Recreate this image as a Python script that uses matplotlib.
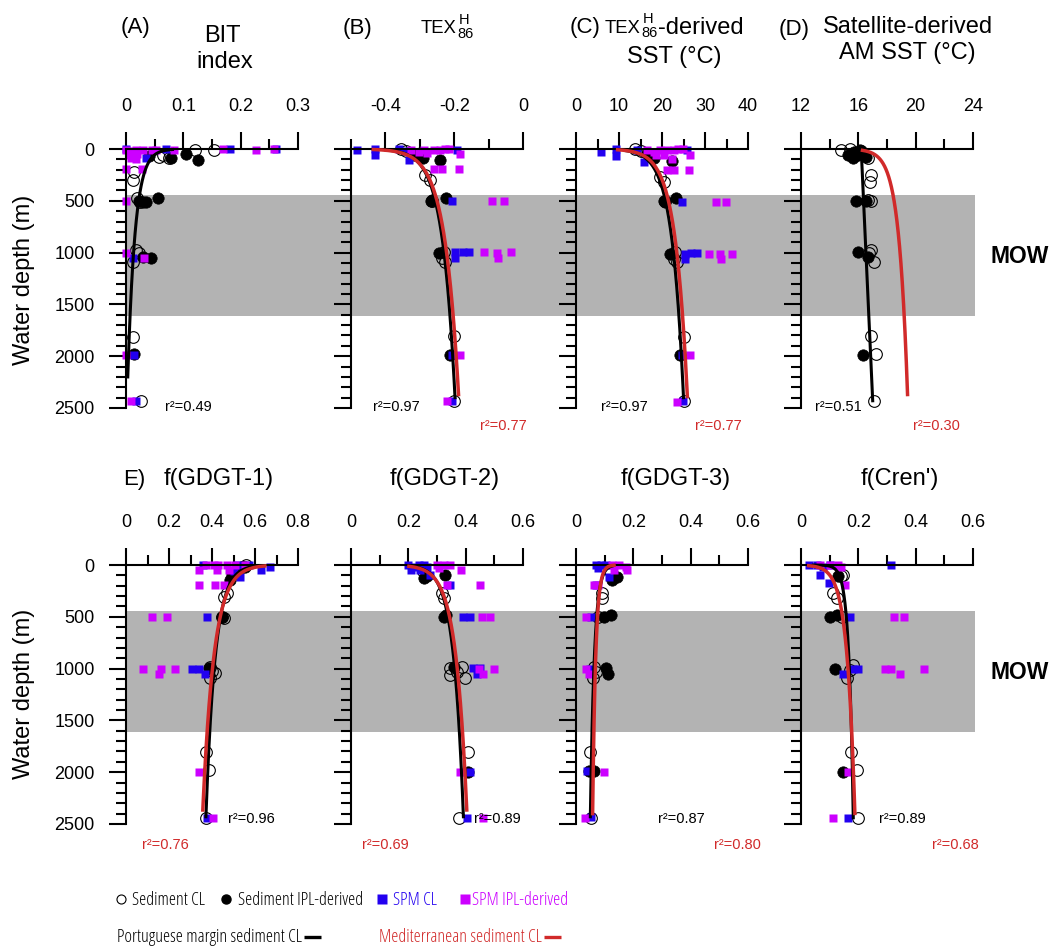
import numpy as np
import matplotlib
matplotlib.use("Agg")
import matplotlib.pyplot as plt
from matplotlib import font_manager
from matplotlib.patches import Rectangle
from matplotlib.lines import Line2D
from matplotlib.transforms import blended_transform_factory

W, H = 1057, 950
plt.rcParams['font.family'] = ['Liberation Sans', 'DejaVu Sans']
plt.rcParams['axes.unicode_minus'] = False

# candidate faces for the legend (narrow sans faces if installed)
SANS = ('Liberation Sans Narrow', 'Liberation Sans', 'Roboto', 'Roboto Condensed', 'Noto Sans',
        'Open Sans', 'DejaVu Sans', 'Lato', 'Inter')
LEG_CANDIDATES = sorted({(f.name, f.stretch) for f in font_manager.fontManager.ttflist
                         if f.name in SANS and f.style == 'normal'})

BLUE = '#2200f0'
MAGENTA = '#cc00ff'
RED = '#d12a2a'
GRAY = '#b3b3b3'

# MOW depth range (m)
MOW_TOP, MOW_BOTTOM = 440, 1610

# ---- (A) BIT index: (value, depth m)
bit_sed_cl = [(0.121, 10), (0.153, 10), (0.058, 74), (0.075, 90), (0.065, 60), (0.014, 218),
              (0.012, 299), (0.020, 475), (0.025, 510), (0.017, 974), (0.023, 1006), (0.012, 1086),
              (0.012, 1810), (0.026, 2435)]
bit_sed_ipl = [(0.105, 51), (0.126, 106), (0.078, 90), (0.040, 65), (0.055, 475), (0.023, 500),
               (0.029, 508), (0.035, 508), (0.029, 1047), (0.043, 1054), (0.014, 1980)]
bit_spm_cl = [(0.0, 0), (0.069, 0), (0.182, 0), (0.262, 0), (0.035, 90), (0.010, 30),
              (0.012, 1054), (0.014, 1990), (0.017, 2435)]
bit_spm_ipl = [(0.0, 5), (0.009, 20), (0.017, 5), (0.029, 10), (0.046, 5), (0.052, 10), (0.084, 10),
               (0.170, 0), (0.227, 10), (0.258, 0), (0.009, 90), (0.017, 100), (0.005, 60), (0.020, 50),
               (0.0, 196), (0.028, 196), (0.0, 500), (0.0, 1000), (0.031, 1054), (0.0, 1990),
               (0.009, 2435)]

# ---- (B) TEX86H
tex_sed_cl = [(-0.356, 0), (-0.340, 15), (-0.284, 250), (-0.269, 300), (-0.265, 505), (-0.230, 990),
              (-0.236, 1054), (-0.226, 1086), (-0.202, 1809), (-0.202, 2435)]
tex_sed_ipl = [(-0.317, 58), (-0.290, 90), (-0.300, 40), (-0.240, 106), (-0.264, 490), (-0.268, 505),
               (-0.223, 469), (-0.245, 1005), (-0.211, 1986)]
tex_spm_cl = [(-0.483, 10), (-0.431, 0), (-0.431, 58), (-0.360, 0), (-0.340, 20), (-0.332, 106),
              (-0.192, 10), (-0.207, 498), (-0.197, 996), (-0.173, 996), (-0.157, 996), (-0.197, 1054),
              (-0.207, 1986), (-0.207, 2435)]
tex_spm_ipl = [(-0.327, 10), (-0.303, 26), (-0.288, 10), (-0.279, 42), (-0.260, 10), (-0.240, 10),
               (-0.226, 0), (-0.216, 0), (-0.183, 51), (-0.260, 196), (-0.236, 196), (-0.185, 196),
               (-0.091, 498), (-0.056, 498), (-0.112, 996), (-0.077, 1005), (-0.072, 1054),
               (-0.036, 996), (-0.183, 1986), (-0.221, 2435)]

# ---- (C) TEX86H-derived SST (degC)
sst_sed_cl = [(13.8, 0), (15.0, 15), (19.5, 267), (20.4, 315), (20.8, 505), (23.1, 996), (22.7, 1060),
              (23.5, 1092), (25.0, 1815), (25.0, 2435)]
sst_sed_ipl = [(16.5, 42), (18.1, 90), (22.3, 116), (20.4, 500), (20.8, 510), (23.3, 475), (21.9, 1012),
               (24.2, 1992)]
sst_spm_cl = [(5.8, 26), (9.4, 0), (9.4, 64), (14.2, 10), (15.9, 122), (25.8, 10), (24.6, 508),
              (25.4, 1012), (26.8, 1005), (28.1, 1005), (25.4, 1060), (24.6, 1992), (24.8, 2435)]
sst_spm_ipl = [(16.5, 10), (18.1, 26), (19.6, 10), (18.5, 58), (20.4, 58), (21.2, 10), (22.7, 10),
               (22.3, 96), (23.8, 0), (24.8, 0), (26.4, 58), (21.2, 202), (22.8, 202), (26.2, 202),
               (32.5, 508), (34.8, 508), (31.0, 1012), (33.5, 1012), (33.8, 1060), (36.3, 1012),
               (26.4, 1992), (23.6, 2442)]

# ---- (D) satellite-derived annual mean SST (degC)
sat_sed_cl = [(14.8, 10), (15.4, 0), (16.2, 20), (16.66, 90), (16.9, 250), (16.8, 315), (16.66, 490),
              (16.85, 505), (16.9, 973), (16.75, 1005), (17.1, 1092), (16.9, 1809), (17.2, 1979),
              (17.1, 2435)]
sat_sed_ipl = [(15.3, 58), (15.6, 90), (16.1, 10), (15.7, 30), (16.0, 60), (16.5, 80), (15.85, 498),
               (16.5, 501), (15.97, 996), (16.66, 1047), (16.3, 1986)]

# ---- (E) f(GDGT-1)
g1_sed_cl = [(0.560, 0), (0.540, 20), (0.469, 273), (0.454, 305), (0.446, 499), (0.455, 512),
             (0.392, 981), (0.400, 1020), (0.415, 1045), (0.392, 1094), (0.372, 1802), (0.385, 1979),
             (0.372, 2439)]
g1_sed_ipl = [(0.554, 16), (0.492, 96), (0.508, 80), (0.485, 145), (0.446, 499), (0.385, 997)]
g1_spm_cl = [(0.360, 0), (0.520, 0), (0.570, 0), (0.630, 48), (0.672, 16), (0.530, 113), (0.500, 60),
             (0.377, 499), (0.308, 1004), (0.338, 1004), (0.366, 1055), (0.377, 2439)]
g1_spm_ipl = [(0.338, 48), (0.370, 0), (0.408, 0), (0.430, 0), (0.423, 48), (0.469, 0), (0.477, 48),
              (0.508, 0), (0.554, 0), (0.338, 193), (0.415, 193), (0.454, 193), (0.120, 499),
              (0.189, 499), (0.077, 1004), (0.162, 1004), (0.154, 1055), (0.228, 1004), (0.338, 1995),
              (0.405, 2439)]

# ---- f(GDGT-2)
g2_sed_cl = [(0.250, 60), (0.317, 273), (0.323, 322), (0.346, 997), (0.386, 981), (0.370, 1030),
             (0.346, 1062), (0.398, 1094), (0.409, 1802), (0.378, 2439)]
g2_sed_ipl = [(0.254, 129), (0.265, 110), (0.329, 96), (0.323, 499), (0.333, 485), (0.358, 981),
              (0.409, 1995)]
g2_spm_cl = [(0.200, 0), (0.219, 16), (0.236, 0), (0.254, 0), (0.265, 16), (0.208, 48), (0.242, 48),
             (0.277, 96), (0.346, 193), (0.392, 499), (0.415, 499), (0.427, 997), (0.450, 997),
             (0.438, 1052), (0.415, 1995), (0.404, 2439)]
g2_spm_ipl = [(0.300, 0), (0.323, 0), (0.346, 0), (0.306, 32), (0.383, 48), (0.334, 193), (0.450, 193),
              (0.456, 499), (0.484, 499), (0.447, 1004), (0.461, 1052), (0.498, 1004), (0.380, 1995),
              (0.461, 2439)]

# ---- f(GDGT-3)
g3_sed_cl = [(0.120, 60), (0.092, 273), (0.092, 322), (0.075, 499), (0.063, 981), (0.069, 1030),
             (0.058, 1094), (0.050, 1802), (0.052, 2439)]
g3_sed_ipl = [(0.144, 113), (0.127, 145), (0.121, 483), (0.098, 499), (0.104, 997), (0.110, 1052),
              (0.063, 1985), (0.045, 1985)]
g3_spm_cl = [(0.069, 0), (0.087, 0), (0.104, 0), (0.075, 32), (0.115, 113), (0.069, 193), (0.052, 499),
             (0.050, 1004), (0.040, 1985), (0.052, 2430)]
g3_spm_ipl = [(0.127, 0), (0.150, 0), (0.173, 16), (0.179, 48), (0.133, 48), (0.075, 193), (0.063, 193),
              (0.035, 499), (0.035, 1004), (0.046, 1052), (0.098, 1995), (0.031, 2439)]

# ---- f(Cren')
cr_sed_cl = [(0.148, 96), (0.140, 110), (0.113, 273), (0.125, 322), (0.142, 499), (0.182, 965),
             (0.170, 1010), (0.159, 1094), (0.174, 1802), (0.194, 1979), (0.200, 2439)]
cr_sed_ipl = [(0.130, 110), (0.100, 499), (0.125, 485), (0.119, 1004), (0.148, 1995)]
cr_spm_cl = [(0.027, 0), (0.055, 0), (0.078, 16), (0.100, 0), (0.315, 0), (0.067, 96), (0.096, 177),
             (0.171, 499), (0.200, 1004), (0.180, 1004), (0.148, 1052), (0.165, 2439)]
cr_spm_ipl = [(0.067, 0), (0.100, 0), (0.130, 0), (0.140, 16), (0.153, 193), (0.323, 499), (0.361, 499),
              (0.292, 1004), (0.315, 1004), (0.344, 1052), (0.430, 1004), (0.165, 1995), (0.111, 2439)]

# log fits, value = a + b*ln(depth): (a, b, first depth, last depth); None = no fit
port_fits = [(0.1016, -0.0128, 5, 2200), (-0.4825, 0.0366, 10, 2400), (4.18, 2.675, 15, 2400),
             None, (0.707, -0.043, 12, 2430), (0.1255, 0.0342, 11.8, 2430),
             (0.1584, -0.0139, 9.6, 2430), (0.063, 0.0153, 0.3, 2440)]
med_fits = [None, (-0.4998, 0.0402, 5, 2370), (4.0, 2.815, 7.5, 2390), (14.74, 0.604, 13, 2370),
            (0.762, -0.0521, 9.3, 2365), (0.104, 0.0386, 12.7, 2365),
            (0.1423, -0.01083, 2.4, 2400), (-0.0253, 0.0274, 6.7, 2398)]
# satellite SST against depth is a straight-line fit: (intercept, slope per m, last depth)
sat_linear_fit = (16.2, 0.00033, 2430)

port_r2 = ['0.49', '0.97', '0.97', '0.51', '0.96', '0.89', '0.87', '0.89']
med_r2 = [None, '0.77', '0.77', '0.30', '0.76', '0.69', '0.80', '0.68']

fig = plt.figure(figsize=(W / 100, H / 100), dpi=100)
renderer = fig.canvas.get_renderer()


def ftext(x, y, s, **kw):
    return fig.text(x / W, 1 - y / H, s, **kw)


def make_axes(left, top):
    return fig.add_axes([left / W, 1 - (top + 259) / H, 172 / W, 259 / H])


def style_axes(ax, xlim, major, labels, minor, show_y):
    ax.set_facecolor('none')
    ax.set_xlim(*xlim)
    ax.set_ylim(2500, 0)
    ax.spines['bottom'].set_visible(False)
    ax.spines['right'].set_visible(False)
    ax.spines['top'].set_linewidth(1.5)
    ax.spines['left'].set_linewidth(1.5)
    ax.xaxis.tick_top()
    ax.set_xticks(major)
    ax.set_xticklabels(labels)
    ax.set_xticks(minor, minor=True)
    ax.set_yticks(range(0, 2501, 500))
    ax.set_yticks(range(0, 2501, 100), minor=True)
    ax.tick_params(which='major', length=12.5, width=1.5, labelsize=13)
    ax.tick_params(which='minor', length=7, width=1.5)
    ax.tick_params(axis='x', pad=12)
    ax.tick_params(axis='y', pad=10, labelleft=show_y)


def points(ax, pts, **kw):
    if not pts:
        return
    v, d = zip(*pts)
    ax.plot(v, d, linestyle='none', clip_on=False, **kw)


def log_fit(ax, fit, color, lw):
    if fit is None:
        return
    a, b, d0, d1 = fit
    d = np.geomspace(d0, d1, 300)
    ax.plot(a + b * np.log(d), d, color=color, lw=lw, clip_on=False, zorder=5)


panels = [
    dict(left=126, top=149, xlim=(0, 0.3), major=[0, 0.1, 0.2, 0.3], labels=['0', '0.1', '0.2', '0.3'],
         minor=[0.05, 0.15, 0.25], data=(bit_sed_cl, bit_sed_ipl, bit_spm_cl, bit_spm_ipl),
         r2k=(165, 411), r2m=None),
    dict(left=351, top=149, xlim=(-0.5, 0), major=[-0.4, -0.2, 0], labels=['-0.4', '-0.2', '0'],
         minor=[-0.5, -0.3, -0.1], data=(tex_sed_cl, tex_sed_ipl, tex_spm_cl, tex_spm_ipl),
         r2k=(373, 411), r2m=(480, 430)),
    dict(left=576, top=149, xlim=(0, 40), major=[0, 10, 20, 30, 40], labels=['0', '10', '20', '30', '40'],
         minor=[5, 15, 25, 35], data=(sst_sed_cl, sst_sed_ipl, sst_spm_cl, sst_spm_ipl),
         r2k=(601, 411), r2m=(695, 430)),
    dict(left=801, top=149, xlim=(12, 24), major=[12, 16, 20, 24], labels=['12', '16', '20', '24'],
         minor=[14, 18, 22], data=(sat_sed_cl, sat_sed_ipl, [], []),
         r2k=(815, 411), r2m=(913, 430)),
    dict(left=126, top=565, xlim=(0, 0.8), major=[0, 0.2, 0.4, 0.6, 0.8],
         labels=['0', '0.2', '0.4', '0.6', '0.8'], minor=[0.1, 0.3, 0.5, 0.7],
         data=(g1_sed_cl, g1_sed_ipl, g1_spm_cl, g1_spm_ipl), r2k=(228, 823), r2m=(142, 849)),
    dict(left=351, top=565, xlim=(0, 0.6), major=[0, 0.2, 0.4, 0.6], labels=['0', '0.2', '0.4', '0.6'],
         minor=[0.1, 0.3, 0.5], data=(g2_sed_cl, g2_sed_ipl, g2_spm_cl, g2_spm_ipl),
         r2k=(474, 823), r2m=(362, 849)),
    dict(left=576, top=565, xlim=(0, 0.6), major=[0, 0.2, 0.4, 0.6], labels=['0', '0.2', '0.4', '0.6'],
         minor=[0.1, 0.3, 0.5], data=(g3_sed_cl, g3_sed_ipl, g3_spm_cl, g3_spm_ipl),
         r2k=(658, 823), r2m=(714, 849)),
    dict(left=801, top=565, xlim=(0, 0.6), major=[0, 0.2, 0.4, 0.6], labels=['0', '0.2', '0.4', '0.6'],
         minor=[0.1, 0.3, 0.5], data=(cr_sed_cl, cr_sed_ipl, cr_spm_cl, cr_spm_ipl),
         r2k=(879, 823), r2m=(932, 849)),
]

axes = []
for i, p in enumerate(panels):
    ax = make_axes(p['left'], p['top'])
    style_axes(ax, p['xlim'], p['major'], p['labels'], p['minor'], p['left'] < 200)
    sed_cl, sed_ipl, spm_cl, spm_ipl = p['data']
    points(ax, sed_cl, marker='o', ms=8.4, mfc='none', mec='black', mew=0.8)
    points(ax, sed_ipl, marker='o', ms=8.2, mfc='black', mec='black', mew=0.5)
    points(ax, spm_cl, marker='s', ms=6, mfc=BLUE, mec='none')
    points(ax, spm_ipl, marker='s', ms=6, mfc=MAGENTA, mec='none')
    log_fit(ax, port_fits[i], 'black', 2.2)
    if i == 3:
        c0, slope, d1 = sat_linear_fit
        d = np.linspace(0, d1, 50)
        ax.plot(c0 + slope * d, d, color='black', lw=2.2, clip_on=False, zorder=5)
    log_fit(ax, med_fits[i], RED, 2.5)
    ftext(*p['r2k'], 'r\u00b2=' + port_r2[i], fontsize=10.5, va='baseline')
    if p['r2m'] is not None:
        ftext(*p['r2m'], 'r\u00b2=' + med_r2[i], fontsize=10.5, color=RED, va='baseline')
    axes.append(ax)

# grey MOW band spanning each row of panels
for ax in (axes[0], axes[4]):
    tr = blended_transform_factory(fig.transFigure, ax.transData)
    band = Rectangle((126 / W, MOW_TOP), (975 - 126) / W, MOW_BOTTOM - MOW_TOP, transform=tr,
                     facecolor=GRAY, edgecolor='none', zorder=-5)
    fig.add_artist(band)
    fig.text(1020 / W, 1100, 'MOW', transform=tr, fontsize=16.5, fontweight='bold',
             ha='center', va='baseline')

# titles
ftext(136, 33, '(A)', fontsize=16, ha='center', va='baseline')
ftext(222, 42, 'BIT', fontsize=17, ha='center', va='baseline')
ftext(225, 68, 'index', fontsize=17, ha='center', va='baseline')

ftext(358, 34, '(B)', fontsize=16, ha='center', va='baseline')
ftext(421, 33, 'TEX', fontsize=13.3, ha='left', va='baseline')
ftext(464, 24, 'H', fontsize=10.5, ha='center', va='baseline')
ftext(466, 38, '86', fontsize=10.5, ha='center', va='baseline')

ftext(585, 33, '(C)', fontsize=16, ha='center', va='baseline')
ftext(605, 33, 'TEX', fontsize=13.3, ha='left', va='baseline')
ftext(648, 23, 'H', fontsize=10.5, ha='center', va='baseline')
ftext(650, 37, '86', fontsize=10.5, ha='center', va='baseline')
ftext(658, 34.5, '-derived', fontsize=17, ha='left', va='baseline')
ftext(674.5, 63, 'SST (\u00b0C)', fontsize=17, ha='center', va='baseline')

ftext(794, 35, '(D)', fontsize=16, ha='center', va='baseline')
ftext(908, 33, 'Satellite-derived', fontsize=17, ha='center', va='baseline')
ftext(907.5, 59.5, 'AM SST (\u00b0C)', fontsize=17, ha='center', va='baseline')

ftext(134, 485, 'E)', fontsize=16, ha='center', va='baseline')
ftext(219, 485, 'f(GDGT-1)', fontsize=17, ha='center', va='baseline')
ftext(445, 485, 'f(GDGT-2)', fontsize=17, ha='center', va='baseline')
ftext(675.5, 485, 'f(GDGT-3)', fontsize=17, ha='center', va='baseline')
ftext(900, 485, "f(Cren')", fontsize=17, ha='center', va='baseline')

for yc in (280, 694):
    ftext(24, yc, 'Water depth (m)', fontsize=17, rotation=90, ha='center', va='center')


# legend drawn by hand, two rows under the panels
def leg_marker(x, y, **kw):
    fig.add_artist(Line2D([x / W], [1 - y / H], transform=fig.transFigure, linestyle='none', **kw))


def leg_line(x0, x1, y, color):
    fig.add_artist(Line2D([x0 / W, x1 / W], [1 - y / H] * 2, transform=fig.transFigure,
                          color=color, lw=2.4, solid_capstyle='butt'))


# pick the narrowest-looking face: at 13 pt, "Sediment IPL-derived" should span ~125 px
def text_width(family, stretch, size):
    t = fig.text(0, 0, 'Sediment IPL-derived', family=family, stretch=stretch, fontsize=size)
    w = t.get_window_extent(renderer).width
    t.remove()
    return w


leg_family, leg_stretch = 'Liberation Sans', 'normal'
best = None
for name, stretch in LEG_CANDIDATES:
    w = text_width(name, stretch, 13)
    if best is None or abs(w - 125) < best:
        best = abs(w - 125)
        leg_family, leg_stretch = name, stretch
leg_size = min(14.0, 13 * 125 / text_width(leg_family, leg_stretch, 13))
LEG_FONT = dict(family=leg_family, stretch=leg_stretch, fontsize=leg_size)

leg_marker(121, 898.5, marker='o', ms=6.5, mfc='none', mec='black', mew=0.8)
leg_marker(226, 898.5, marker='o', ms=6.5, mfc='black', mec='black')
leg_marker(381.5, 899, marker='s', ms=6.5, mfc=BLUE, mec='none')
leg_marker(465, 899, marker='s', ms=6.5, mfc=MAGENTA, mec='none')

ftext(132, 905, 'Sediment CL', va='baseline', **LEG_FONT)
ftext(238, 905, 'Sediment IPL-derived', va='baseline', **LEG_FONT)
ftext(393, 905, 'SPM CL', color=BLUE, va='baseline', **LEG_FONT)
ftext(472, 905, 'SPM IPL-derived', color=MAGENTA, va='baseline', **LEG_FONT)
port_txt = ftext(117, 942.5, 'Portuguese margin sediment CL', va='baseline', **LEG_FONT)
med_txt = ftext(379, 942.5, 'Mediterranean sediment CL', color=RED, va='baseline', **LEG_FONT)

# line keys sit right after the text of the second row
for t, color in ((port_txt, 'black'), (med_txt, RED)):
    x_end = t.get_window_extent(renderer).x1
    leg_line(x_end + 2, x_end + 19, 937, color)

fig.savefig('out.png', dpi=100)
